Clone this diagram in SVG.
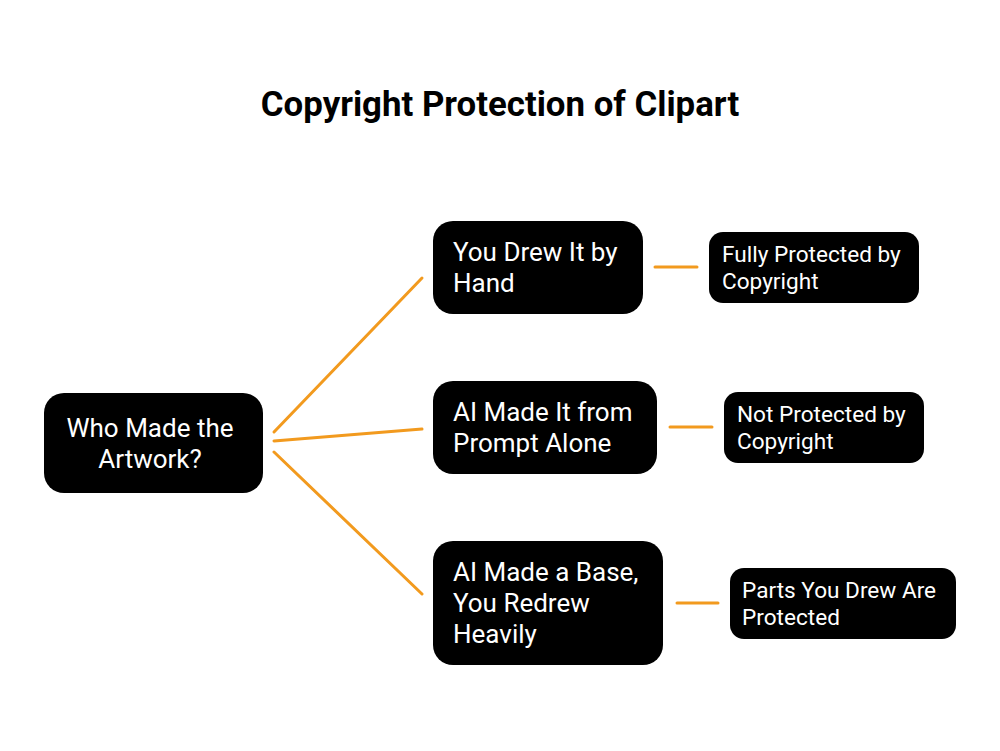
<svg xmlns="http://www.w3.org/2000/svg" width="1000" height="751" viewBox="0 0 1000 751">
<style>
.box{fill:#000}
.t{font-family:Roboto,"Liberation Sans",sans-serif;fill:#fff}
.m{font-size:26px}
.r{font-size:22.6px}
.edge{stroke:#F29A1E;stroke-width:3;stroke-linecap:round;fill:none}
</style>
<rect width="1000" height="751" fill="#fff"/>
<text x="500" y="116" text-anchor="middle" font-family="Roboto,'Liberation Sans',sans-serif" font-weight="bold" font-size="34.8" fill="#000">Copyright Protection of Clipart</text>
<g id="connectors">
<line class="edge" x1="274" y1="432" x2="422" y2="278"/>
<line class="edge" x1="274" y1="441" x2="422" y2="429"/>
<line class="edge" x1="274" y1="452" x2="422" y2="594"/>
<line class="edge" x1="655" y1="267" x2="697" y2="267"/>
<line class="edge" x1="670" y1="427" x2="712" y2="427"/>
<line class="edge" x1="677" y1="603" x2="718" y2="603"/>
</g>
<g id="root">
<rect class="box" x="44" y="393" width="219" height="100" rx="20"/>
<text class="t m" x="150" y="437" text-anchor="middle">Who Made the</text>
<text class="t m" x="150" y="468" text-anchor="middle">Artwork?</text>
</g>
<g id="hand">
<rect class="box" x="433" y="221" width="210" height="93" rx="20"/>
<text class="t m" x="453" y="261">You Drew It by</text>
<text class="t m" x="453" y="292">Hand</text>
</g>
<g id="prompt">
<rect class="box" x="433" y="381" width="224" height="93" rx="20"/>
<text class="t m" x="453" y="421">AI Made It from</text>
<text class="t m" x="453" y="452">Prompt Alone</text>
</g>
<g id="base">
<rect class="box" x="433" y="541" width="230" height="124" rx="20"/>
<text class="t m" x="453" y="581">AI Made a Base,</text>
<text class="t m" x="453" y="612">You Redrew</text>
<text class="t m" x="453" y="643">Heavily</text>
</g>
<g id="full">
<rect class="box" x="709" y="232" width="210" height="71" rx="14"/>
<text class="t r" x="722" y="262">Fully Protected by</text>
<text class="t r" x="722" y="289">Copyright</text>
</g>
<g id="notprot">
<rect class="box" x="724" y="392" width="200" height="71" rx="14"/>
<text class="t r" x="737" y="422">Not Protected by</text>
<text class="t r" x="737" y="449">Copyright</text>
</g>
<g id="parts">
<rect class="box" x="730" y="568" width="226" height="71" rx="14"/>
<text class="t r" x="742" y="598">Parts You Drew Are</text>
<text class="t r" x="742" y="625">Protected</text>
</g>
</svg>
